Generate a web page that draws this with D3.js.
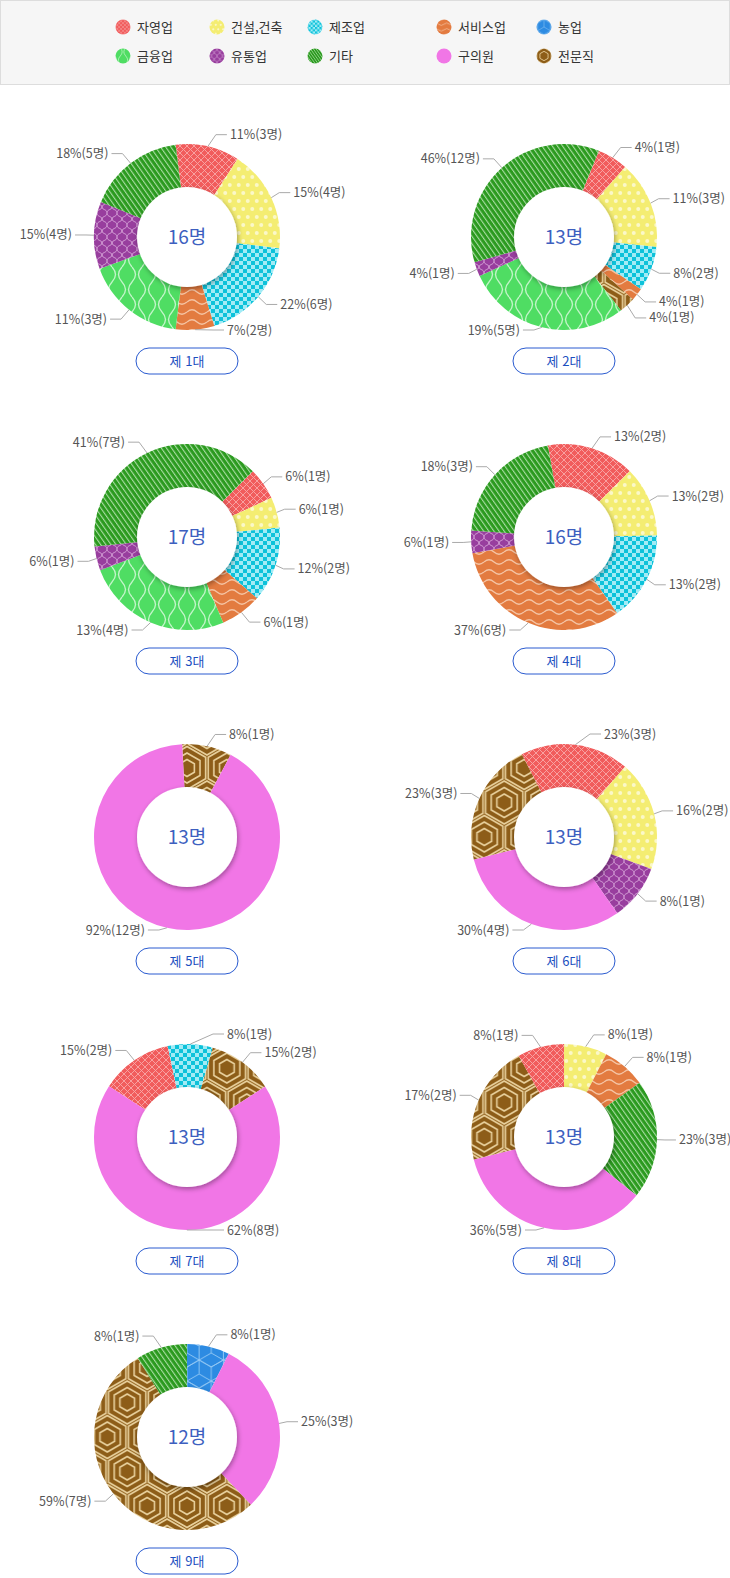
<!DOCTYPE html>
<html lang="ko">
<head>
<meta charset="UTF-8">
<title>역대 구의원 직업 분포</title>
<script src="https://cdn.jsdelivr.net/npm/d3@7"></script>
<style>
	body { margin: 0; background: #fff; }
	svg { display: block; font-family: "Noto Sans CJK KR", "Noto Sans", sans-serif; }
</style>
</head>
<body>
<script>
// ---- data ----
var jobs = ['자영업', '건설,건축', '제조업', '서비스업', '농업', '금융업', '유통업', '기타', '구의원', '전문직'];
var terms = ['제 1대', '제 2대', '제 3대', '제 4대', '제 5대', '제 6대', '제 7대', '제 8대', '제 9대'];
var totals = [16, 13, 17, 16, 13, 13, 13, 13, 12];

// slice categories, slice share (% of ring as drawn) and label text, per term
var cats1 = ['자영업', '건설,건축', '제조업', '서비스업', '금융업', '유통업', '기타'];
var share1 = [11.1, 17.8, 18.3, 6.7, 17.5, 11.7, 16.9];
var label1 = ['11%(3명)', '15%(4명)', '22%(6명)', '7%(2명)', '11%(3명)', '15%(4명)', '18%(5명)'];

var cats2 = ['자영업', '건설,건축', '제조업', '서비스업', '전문직', '금융업', '유통업', '기타'];
var share2 = [5.3, 15.3, 7.8, 2.2, 2.8, 28.6, 2.5, 35.5];
var label2 = ['4%(1명)', '11%(3명)', '8%(2명)', '4%(1명)', '4%(1명)', '19%(5명)', '4%(1명)', '46%(12명)'];

var cats3 = ['자영업', '건설,건축', '제조업', '서비스업', '금융업', '유통업', '기타'];
var share3 = [5.6, 5.3, 13.1, 7.2, 25.6, 4.2, 39.2];
var label3 = ['6%(1명)', '6%(1명)', '12%(2명)', '6%(1명)', '13%(4명)', '6%(1명)', '41%(7명)'];

var cats4 = ['자영업', '건설,건축', '제조업', '서비스업', '유통업', '기타'];
var share4 = [15.3, 12.2, 15.6, 31.9, 3.9, 21.1];
var label4 = ['13%(2명)', '13%(2명)', '13%(2명)', '37%(6명)', '6%(1명)', '18%(3명)'];

var cats5 = ['전문직', '구의원'];
var share5 = [8.6, 91.4];
var label5 = ['8%(1명)', '92%(12명)'];

var cats6 = ['자영업', '건설,건축', '유통업', '구의원', '전문직'];
var share6 = [18.9, 19.2, 9.7, 30.8, 21.4];
var label6 = ['23%(3명)', '16%(2명)', '8%(1명)', '30%(4명)', '23%(3명)'];

var cats7 = ['자영업', '제조업', '전문직', '구의원'];
var share7 = [12.5, 7.8, 11.4, 68.3];
var label7 = ['15%(2명)', '8%(1명)', '15%(2명)', '62%(8명)'];

var cats8 = ['건설,건축', '서비스업', '기타', '구의원', '전문직', '자영업'];
var share8 = [7.5, 7.6, 20.7, 35.3, 20.8, 8.1];
var label8 = ['8%(1명)', '8%(1명)', '23%(3명)', '36%(5명)', '17%(2명)', '8%(1명)'];

var cats9 = ['농업', '구의원', '전문직', '기타'];
var share9 = [7.4, 30.6, 53.2, 8.9];
var label9 = ['8%(1명)', '25%(3명)', '59%(7명)', '8%(1명)'];

var allCats = [cats1, cats2, cats3, cats4, cats5, cats6, cats7, cats8, cats9];
var allShares = [share1, share2, share3, share4, share5, share6, share7, share8, share9];
var allLabels = [label1, label2, label3, label4, label5, label6, label7, label8, label9];

// ---- layout ----
var width = 730, height = 1578;
var rOuter = 93, rInner = 50;
var colX = [187, 564];
var rowY0 = 237, rowStep = 300;
var startDeg = [-7, 22, 45, -10, -3, -27, -57, 0, 0];
var legendX = [123, 217, 315, 444, 544];
var legendY = [27, 56];

var svg = d3.select('body').append('svg')
	.attr('width', width)
	.attr('height', height);

var defs = svg.append('defs');

var shadow = defs.append('filter').attr('id', 'shadow')
	.attr('x', '-30%').attr('y', '-30%').attr('width', '160%').attr('height', '160%');
shadow.append('feDropShadow')
	.attr('dx', 1).attr('dy', 2).attr('stdDeviation', 2.5)
	.attr('flood-color', '#000').attr('flood-opacity', 0.35);

function addPattern(id, w, h, bg, transform) {
	var p = defs.append('pattern').attr('id', id)
		.attr('patternUnits', 'userSpaceOnUse')
		.attr('width', w).attr('height', h);
	if (transform) p.attr('patternTransform', transform);
	p.append('rect').attr('width', w).attr('height', h).attr('fill', bg);
	// smaller copy for the legend swatches
	defs.append('pattern').attr('id', 'l' + id)
		.attr('href', '#' + id)
		.attr('patternTransform', 'scale(0.55)' + (transform ? ' ' + transform : ''));
	return p;
}

// hexagon path, centre (x,y), radius r, rotation offset in degrees
function hexPath(x, y, r, rot) {
	var pts = d3.range(6).map(function (k) {
		var a = (rot + k * 60) * Math.PI / 180;
		return [x + r * Math.cos(a), y + r * Math.sin(a)];
	});
	return 'M' + pts.join('L') + 'Z';
}

// 자영업: cross hatch
var p = addPattern('p0', 7, 7, '#f15c5c');
p.append('path').attr('d', 'M0,0L7,7M7,0L0,7').attr('stroke', '#f8a8a8').attr('stroke-width', 0.9);

// 건설,건축: dots
p = addPattern('p1', 9, 16, '#f4ed72');
p.selectAll('circle').data([[2.25, 4], [6.75, 12]]).enter().append('circle')
	.attr('cx', d => d[0]).attr('cy', d => d[1]).attr('r', 2).attr('fill', '#fbf8c8');

// 제조업: checkers
p = addPattern('p2', 8, 8, '#a2ebf5');
p.append('path').attr('d', 'M0,0h4v4h-4zM4,4h4v4h-4z').attr('fill', '#0dc2da');

// 서비스업: horizontal waves
p = addPattern('p3', 20, 10, '#e37b40');
p.append('path').attr('d', 'M0,5Q5,0.5 10,5T20,5').attr('fill', 'none')
	.attr('stroke', '#f5c4a4').attr('stroke-width', 1.3);

// 농업: cubes
(function () {
	var s = 14, w = Math.sqrt(3) * s, h = 3 * s;
	var q = addPattern('p4', w, h, '#2d8be2');
	var centres = [[0, 0], [w, 0], [w / 2, 1.5 * s], [0, h], [w, h]];
	var d = '';
	centres.forEach(function (c) {
		d += hexPath(c[0], c[1], s, -90);
		[-90, 30, 150].forEach(function (deg) {
			var a = deg * Math.PI / 180;
			d += 'M' + c[0] + ',' + c[1] + 'L' + (c[0] + s * Math.cos(a)) + ',' + (c[1] + s * Math.sin(a));
		});
	});
	q.append('path').attr('d', d).attr('fill', 'none').attr('stroke', '#94c9f4').attr('stroke-width', 0.9);
})();

// 금융업: vertical waves
p = addPattern('p5', 20, 30, '#4fdd63');
p.append('path').attr('d', 'M5,0Q12,7.5 5,15Q-2,22.5 5,30M15,0Q8,7.5 15,15Q22,22.5 15,30')
	.attr('fill', 'none').attr('stroke', '#c2f5c8').attr('stroke-width', 1.3);

// 유통업: ogee
p = addPattern('p6', 10, 12, '#983e9e');
p.append('path').attr('d', 'M0,0C0,4 5,3 5,6C5,9 10,8 10,12M10,0C10,4 5,3 5,6C5,9 0,8 0,12')
	.attr('fill', 'none').attr('stroke', '#d8a6da').attr('stroke-width', 1);

// 기타: stripes
p = addPattern('p7', 4.2, 4.2, '#2b9a1f', 'rotate(-35)');
p.append('rect').attr('x', 0).attr('width', 1.1).attr('height', 4.2).attr('fill', '#a9dca3');

// 전문직: concentric hexagons
(function () {
	var R = 23, w = Math.sqrt(3) * R, h = 3 * R;
	var q = addPattern('p9', w, h, '#8d5d18');
	var centres = [[0, 0], [w, 0], [w / 2, 1.5 * R], [0, h], [w, h]];
	var d = '';
	centres.forEach(function (c) {
		[21.5, 15, 8.5].forEach(function (r) { d += hexPath(c[0], c[1], r, -90); });
	});
	q.append('path').attr('d', d).attr('fill', 'none').attr('stroke', '#e8d09c').attr('stroke-width', 1.6);
})();

function fillOf(job, prefix) {
	if (job === '구의원') return '#f176e6';
	return 'url(#' + (prefix || '') + 'p' + jobs.indexOf(job) + ')';
}

// ---- legend ----
svg.append('rect')
	.attr('x', 0.5).attr('y', 0.5).attr('width', width - 1).attr('height', 84)
	.attr('fill', '#f6f6f6').attr('stroke', '#dddddd');

var legend = svg.selectAll('g.legend').data(jobs).enter().append('g')
	.attr('class', 'legend')
	.attr('transform', (d, k) => `translate(${legendX[k % 5]},${legendY[Math.floor(k / 5)]})`);
legend.append('circle').attr('r', 7.5).attr('fill', d => fillOf(d, 'l'));
legend.append('text')
	.attr('x', 14).attr('dy', '0.36em')
	.attr('font-size', 13).attr('fill', '#333')
	.text(d => d);

// ---- donuts ----
var arc = d3.arc().innerRadius(rInner - 2).outerRadius(rOuter);

function drawChart(i) {
	var cx = colX[i % 2], cy = rowY0 + Math.floor(i / 2) * rowStep;
	var g = svg.append('g').attr('transform', `translate(${cx},${cy})`);
	var a0 = startDeg[i] * Math.PI / 180;
	var pie = d3.pie().sort(null).startAngle(a0).endAngle(a0 + 2 * Math.PI);
	var arcs = pie(allShares[i]);

	g.selectAll('path.slice').data(arcs).enter().append('path')
		.attr('class', 'slice')
		.attr('d', arc)
		.attr('fill', (d, j) => fillOf(allCats[i][j]));

	g.append('circle').attr('r', rInner).attr('fill', '#fff').attr('filter', 'url(#shadow)');

	g.append('text')
		.attr('text-anchor', 'middle').attr('dy', '0.36em')
		.attr('font-size', 19).attr('fill', '#3d5fbf')
		.text(totals[i] + '명');

	// labels with connectors
	var items = arcs.map(function (d, j) {
		var a = (d.startAngle + d.endAngle) / 2;
		var y = -(rOuter + 12) * Math.cos(a);
		return {
			a: a,
			side: Math.sin(a) > -0.02 ? 1 : -1,
			text: allLabels[i][j],
			y: Math.max(-(rOuter + 10), Math.min(rOuter, y))
		};
	});
	[1, -1].forEach(function (side) {
		var list = items.filter(o => o.side === side).sort((m, n) => m.y - n.y);
		for (var k = 1; k < list.length; k++) {
			if (list[k].y - list[k - 1].y < 16) list[k].y = list[k - 1].y + 16;
		}
	});

	var lab = g.selectAll('g.lab').data(items).enter().append('g').attr('class', 'lab');
	lab.each(function (o) {
		var tx = rOuter * Math.sin(o.a), ty = -rOuter * Math.cos(o.a);
		var bx = (rOuter + 6) * Math.sin(o.a);
		if (Math.abs(bx) < Math.abs(tx) + 8) bx = tx + o.side * 8;
		if (Math.abs(bx) < 26) bx = o.side * 26;
		var ex = bx + o.side * 11;
		var sel = d3.select(this);
		sel.append('path')
			.attr('d', `M${tx},${ty}L${bx},${o.y}L${ex},${o.y}`)
			.attr('fill', 'none').attr('stroke', '#aaaaaa').attr('stroke-width', 1);
		sel.append('text')
			.attr('x', ex + o.side * 3).attr('y', o.y).attr('dy', '0.36em')
			.attr('text-anchor', o.side > 0 ? 'start' : 'end')
			.attr('font-size', 12.5).attr('fill', '#555')
			.text(o.text);
	});

	// term button
	var btn = g.append('g').attr('transform', 'translate(0,124)');
	btn.append('rect')
		.attr('x', -51).attr('y', -13).attr('width', 102).attr('height', 26).attr('rx', 13)
		.attr('fill', '#fff').attr('stroke', '#2a5bd0').attr('stroke-width', 1);
	btn.append('text')
		.attr('text-anchor', 'middle').attr('dy', '0.36em')
		.attr('font-size', 13).attr('fill', '#1c4fbf')
		.text(terms[i]);
}

terms.forEach(function (t, i) { drawChart(i); });
</script>
</body>
</html>
